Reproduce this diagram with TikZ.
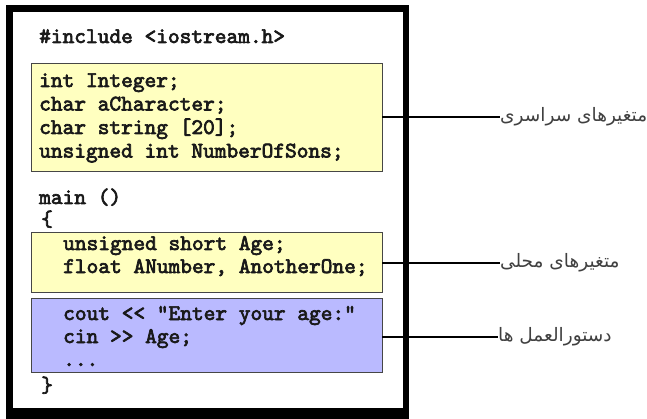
\documentclass[tikz,border=0pt]{standalone}
\usepackage{fontspec}
\TeXXeTstate=1
\newfontfamily\arabicfont[Script=Arabic]{DejaVu Sans}
\newfontfamily\codefont{lmmono10-regular.otf}[FakeBold=3]
\definecolor{boxyellow}{RGB}{255,255,192}
\definecolor{boxblue}{RGB}{186,186,255}
\definecolor{boxedge}{RGB}{70,70,70}
\tikzset{
  code/.style={anchor=base west, inner sep=0pt, font=\codefont\fontsize{22.3}{23.5}\selectfont, text=black!90},
  region/.style={draw=boxedge, line width=0.9pt},
  label/.style={anchor=west, inner sep=0pt, font=\arabicfont\fontsize{18.5}{22}\selectfont, text=black!75},
  conn/.style={draw=black, line width=1.1pt}
}
\begin{document}
\begin{tikzpicture}[x=1pt,y=-1pt]
\useasboundingbox (0,0) rectangle (647,419);
\fill[white] (0,0) rectangle (647,419);
% frame
\fill[black] (6,5) rectangle (409,419);
\fill[white] (13,12) rectangle (403,408);
% boxes
\path[region, fill=boxyellow] (31,63) rectangle (382,171);
\path[region, fill=boxyellow] (31,232) rectangle (382,292);
\path[region, fill=boxblue] (31,298) rectangle (382,372);
\coordinate (g) at (382,117);
\coordinate (l) at (382,263);
\coordinate (s) at (382,337);
% code
\node[code] (inc) at (39,43) {\#include <iostream.h>};
\node[code] (g1) at (39,87) {int Integer;};
\node[code] (g2) at (39,110.5) {char aCharacter;};
\node[code] (g3) at (39,134) {char string [20];};
\node[code] (g4) at (39,157.5) {unsigned int NumberOfSons;};
\node[code] (mn) at (39,204) {main ()};
\node[code] (ob) at (41,226) {\{};
\node[code] (l1) at (63,250) {unsigned short Age;};
\node[code] (l2) at (63,273) {float ANumber, AnotherOne;};
\node[code] (s1) at (63,320) {cout << "Enter your age:"};
\node[code] (s2) at (63,343) {cin >> Age;};
\node[code] (s3) at (63,366) {...};
\node[code] (cb) at (41,392) {\}};
% labels
\node[label] (lg) at (500,117) {\beginR متغیرهای سراسری\endR};
\node[label] (ll) at (500,263) {\beginR متغیرهای محلی\endR};
\node[label] (ls) at (498,337) {\beginR دستورالعمل ها\endR};
\draw[conn] (g) -- (lg.west);
\draw[conn] (l) -- (ll.west);
\draw[conn] (s) -- (ls.west);
\end{tikzpicture}
\end{document}
